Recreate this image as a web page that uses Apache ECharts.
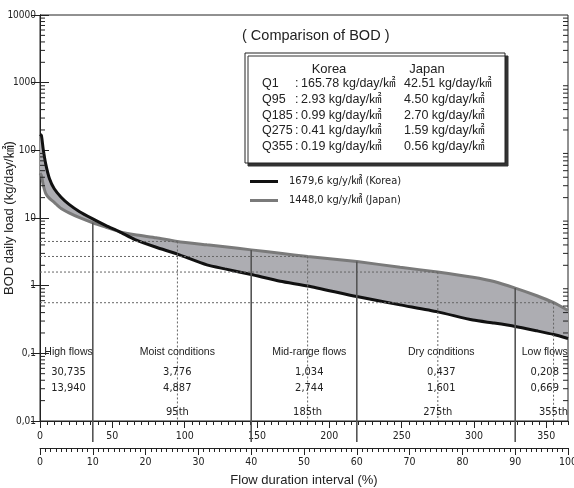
<!DOCTYPE html>
<html>
<head>
<meta charset="utf-8">
<script src="https://cdn.jsdelivr.net/npm/echarts@6/dist/echarts.min.js"></script>
<style>
  html, body { margin: 0; padding: 0; background: #fff; }
  #chart { width: 574px; height: 488px; }
</style>
</head>
<body>
<div id="chart"></div>
<script>
// flow duration interval (%) and BOD daily load (kg/day/㎢)
const flowPct = [0, 0.27, 0.6, 1.1, 1.8, 2.7, 4, 5.5, 7.5, 10, 12.5, 15, 18, 22, 26, 31.6, 35, 40, 45.5, 50.7, 60, 68.2, 75.3, 82, 86, 90, 94.1, 97.3, 100];
const koreaLoad = [172, 165.78, 105, 62, 38, 27, 20.3, 15.9, 12.4, 9.7, 7.7, 6.3, 4.8, 3.7, 2.93, 2.03, 1.77, 1.46, 1.16, 0.99, 0.69, 0.52, 0.41, 0.31, 0.28, 0.25, 0.215, 0.19, 0.166];
const japanLoad = [46, 42.51, 31, 23, 19.5, 17, 13.8, 11.9, 10.1, 8.5, 7.3, 6.3, 5.65, 5.1, 4.5, 4.01, 3.75, 3.38, 3.01, 2.7, 2.27, 1.87, 1.59, 1.33, 1.15, 0.92, 0.71, 0.56, 0.43];

const yTickLabels = ['0,01', '0,1', '1', '10', '100', '1000', '10000'];
const dayTicks = [0, 50, 100, 150, 200, 250, 300, 350];

// flow zone boundaries (%), japan load where the line starts
const zoneBounds = [10, 40, 60, 90];
const zoneBoundLoad = [8.5, 3.38, 2.27, 0.92];

// percentile days
const pctDays = [95, 185, 275, 355];
const pctLabels = ['95th', '185th', '275th', '355th'];
const pctJapan = [4.50, 2.70, 1.59, 0.56];

const zoneNames = ['High flows', 'Moist conditions', 'Mid-range flows', 'Dry conditions', 'Low flows'];
const zoneX = [5.4, 26, 51, 76, 95.6];
const zoneKorea = ['30,735', '3,776', '1,034', '0,437', '0,208'];
const zoneJapan = ['13,940', '4,887', '2,744', '1,601', '0,669'];

const qNames = ['Q1', 'Q95', 'Q185', 'Q275', 'Q355'];
const qKorea = [165.78, 2.93, 0.99, 0.41, 0.19];
const qJapan = [42.51, 4.50, 2.70, 1.59, 0.56];

const nameKorea = '1679,6 kg/y/㎢ (Korea)';
const nameJapan = '1448,0 kg/y/㎢ (Japan)';

const FONT = '"Liberation Sans", Arial, "Noto Sans CJK KR", sans-serif';
const NARROW = '"Liberation Sans Narrow", "DejaVu Sans Condensed", "Liberation Sans", "Noto Sans CJK KR", sans-serif';
const INK = '#222';

// minor log ticks 2..9 x 10^k
const minorVals = [];
for (let k = -2; k < 4; k++) {
  for (let m = 2; m <= 9; m++) minorVals.push([0, m * Math.pow(10, k)]);
}

const chart = echarts.init(document.getElementById('chart'));

const graphic = [
  {
    type: 'text', left: 242, top: 29,
    style: { text: '( Comparison of BOD )', fontSize: 14.5, fontFamily: FONT, fill: INK }
  },
  {
    type: 'rect', shape: { x: 245, y: 53, width: 260, height: 110 },
    style: { fill: '#fff', stroke: INK, lineWidth: 1, shadowColor: '#333', shadowOffsetX: 3, shadowOffsetY: 3, shadowBlur: 0 },
    z: 10
  },
  {
    type: 'text', x: 329, y: 69, z: 11,
    style: { text: 'Korea', fontSize: 13, fontFamily: FONT, fill: INK, align: 'center', verticalAlign: 'middle' }
  },
  {
    type: 'text', x: 427, y: 69, z: 11,
    style: { text: 'Japan', fontSize: 13, fontFamily: FONT, fill: INK, align: 'center', verticalAlign: 'middle' }
  }
];
qNames.forEach((q, i) => {
  const y = 84 + i * 15.6;
  const st = { fontSize: 12.5, fontFamily: FONT, fill: INK, verticalAlign: 'middle' };
  graphic.push(
    { type: 'text', x: 262, y: y, z: 11, style: Object.assign({ text: q }, st) },
    { type: 'text', x: 295, y: y, z: 11, style: Object.assign({ text: ':' }, st) },
    { type: 'text', x: 301, y: y, z: 11, style: Object.assign({ text: qKorea[i].toFixed(2) + ' kg/day/㎢' }, st) },
    { type: 'text', x: 404, y: y, z: 11, style: Object.assign({ text: qJapan[i].toFixed(2) + ' kg/day/㎢' }, st) }
  );
});

const option = {
  animation: false,
  graphic: graphic,
  legend: {
    orient: 'vertical', left: 250, top: 176, padding: 0,
    icon: 'rect', itemWidth: 28, itemHeight: 3, itemGap: 8,
    textStyle: { fontSize: 11, fontFamily: NARROW, color: INK, padding: [0, 0, 0, 6] },
    data: [nameKorea, nameJapan]
  },
  grid: {
    left: 40, right: 6, top: 15, bottom: 67,
    show: true, borderColor: INK, borderWidth: 1,
    containLabel: false, outerBoundsMode: 'none'
  },
  xAxis: [
    {
      type: 'value', min: 0, max: 100, interval: 10, position: 'bottom', offset: 27,
      name: 'Flow duration interval (%)', nameLocation: 'middle', nameGap: 26, nameMoveOverlap: false,
      nameTextStyle: { fontSize: 13, fontFamily: FONT, color: INK },
      axisLine: { show: true, lineStyle: { color: INK } },
      axisTick: { show: true, length: 7, lineStyle: { color: INK } },
      minorTick: { show: true, splitNumber: 10, length: 4, lineStyle: { color: INK } },
      axisLabel: { fontSize: 10.5, fontFamily: NARROW, color: INK, margin: 9 },
      splitLine: { show: false }
    },
    {
      type: 'value', min: 0, max: 365, position: 'bottom', offset: 0,
      axisLine: { show: true, lineStyle: { color: INK } },
      axisTick: { show: true, length: 7, customValues: dayTicks, lineStyle: { color: INK } },
      axisLabel: { fontSize: 10.5, fontFamily: NARROW, color: INK, margin: 10, customValues: dayTicks },
      splitLine: { show: false }
    },
    {
      type: 'value', min: 0, max: 365, interval: 5, position: 'bottom', offset: 0,
      axisLine: { show: false },
      axisTick: { show: true, length: 4, lineStyle: { color: INK } },
      axisLabel: { show: false },
      splitLine: { show: false }
    }
  ],
  yAxis: [
    {
      type: 'log', logBase: 10, min: 0.01, max: 10000, position: 'left',
      name: 'BOD daily load (kg/day/㎢)', nameLocation: 'middle', nameGap: 24, nameMoveOverlap: false,
      nameTextStyle: { fontSize: 13, fontFamily: FONT, color: INK },
      axisLine: { show: true, lineStyle: { color: INK } },
      axisTick: { show: true, inside: true, length: 9, lineStyle: { color: INK } },
      axisLabel: {
        fontSize: 10, fontFamily: NARROW, color: INK, margin: 4,
        formatter: v => yTickLabels[Math.round(Math.log10(v)) + 2]
      },
      splitLine: { show: false }
    },
    {
      type: 'log', logBase: 10, min: 0.01, max: 10000, position: 'right',
      axisLine: { show: true, lineStyle: { color: INK } },
      axisTick: { show: true, inside: true, length: 9, lineStyle: { color: INK } },
      axisLabel: { show: false },
      splitLine: { show: false }
    }
  ],
  series: [
    {
      // shaded band between the two curves
      type: 'custom', xAxisIndex: 0, yAxisIndex: 0, silent: true, z: 1,
      data: [[flowPct[0], koreaLoad[0]]],
      renderItem(params, api) {
        const pts = [];
        flowPct.forEach((p, i) => pts.push(api.coord([p, koreaLoad[i]])));
        for (let i = flowPct.length - 1; i >= 0; i--) pts.push(api.coord([flowPct[i], japanLoad[i]]));
        return { type: 'polygon', shape: { points: pts }, style: { fill: '#adadb2', stroke: null } };
      }
    },
    {
      name: nameKorea, type: 'line', xAxisIndex: 0, yAxisIndex: 0, z: 5,
      symbol: 'none', color: '#111', smooth: 0.2,
      lineStyle: { color: '#111', width: 3 },
      data: flowPct.map((p, i) => [p, koreaLoad[i]])
    },
    {
      name: nameJapan, type: 'line', xAxisIndex: 0, yAxisIndex: 0, z: 4,
      symbol: 'none', color: '#7a7a7a', smooth: 0.2,
      lineStyle: { color: '#7a7a7a', width: 3 },
      data: flowPct.map((p, i) => [p, japanLoad[i]])
    },
    {
      // dashed percentile guides
      type: 'custom', xAxisIndex: 1, yAxisIndex: 0, silent: true, z: 6,
      data: pctDays.map((d, i) => [d, pctJapan[i]]),
      renderItem(params, api) {
        const d = api.value(0), v = api.value(1);
        const p = api.coord([d, v]);
        const l = api.coord([0, v]);
        const b = api.coord([d, 0.01]);
        const st = { stroke: '#666', lineWidth: 1, lineDash: [2, 2] };
        return {
          type: 'group', children: [
            { type: 'line', shape: { x1: l[0], y1: p[1], x2: p[0], y2: p[1] }, style: st },
            { type: 'line', shape: { x1: p[0], y1: p[1], x2: p[0], y2: b[1] }, style: st }
          ]
        };
      }
    },
    {
      // solid zone boundaries
      type: 'custom', xAxisIndex: 0, yAxisIndex: 0, silent: true, z: 6, clip: false,
      data: zoneBounds.map((x, i) => [x, zoneBoundLoad[i]]),
      renderItem(params, api) {
        const p = api.coord([api.value(0), api.value(1)]);
        const b = api.coord([api.value(0), 0.01]);
        return { type: 'line', shape: { x1: p[0], y1: p[1], x2: p[0], y2: b[1] + 21 }, style: { stroke: '#555', lineWidth: 1.6 } };
      }
    },
    {
      // minor log ticks on both sides
      type: 'custom', xAxisIndex: 0, yAxisIndex: 0, silent: true, z: 7, clip: false,
      data: minorVals,
      renderItem(params, api) {
        const v = api.value(1);
        const l = api.coord([0, v]);
        const r = api.coord([100, v]);
        const st = { stroke: INK, lineWidth: 1 };
        return {
          type: 'group', children: [
            { type: 'line', shape: { x1: l[0], y1: l[1], x2: l[0] + 5, y2: l[1] }, style: st },
            { type: 'line', shape: { x1: r[0] - 5, y1: r[1], x2: r[0], y2: r[1] }, style: st }
          ]
        };
      }
    },
    {
      // zone captions
      type: 'custom', xAxisIndex: 0, yAxisIndex: 0, silent: true, z: 8, clip: false,
      data: zoneX.map((x, i) => [x, i]),
      renderItem(params, api) {
        const i = params.dataIndex;
        const x = api.value(0);
        const t = (val, txt, font) => {
          const p = api.coord([x, val]);
          return { type: 'text', x: p[0], y: p[1], style: { text: txt, fontSize: font === FONT ? 10.5 : 11, fontFamily: font, fill: INK, align: 'center', verticalAlign: 'middle' } };
        };
        return {
          type: 'group', children: [
            t(0.105, zoneNames[i], FONT),
            t(0.052, zoneKorea[i], NARROW),
            t(0.031, zoneJapan[i], NARROW)
          ]
        };
      }
    },
    {
      // percentile labels
      type: 'custom', xAxisIndex: 1, yAxisIndex: 0, silent: true, z: 8, clip: false,
      data: pctDays.map((d, i) => [d, i]),
      renderItem(params, api) {
        const p = api.coord([api.value(0), 0.0135]);
        return { type: 'text', x: p[0], y: p[1], style: { text: pctLabels[params.dataIndex], fontSize: 11, fontFamily: NARROW, fill: INK, align: 'center', verticalAlign: 'middle' } };
      }
    }
  ]
};

chart.setOption(option);
</script>
</body>
</html>
